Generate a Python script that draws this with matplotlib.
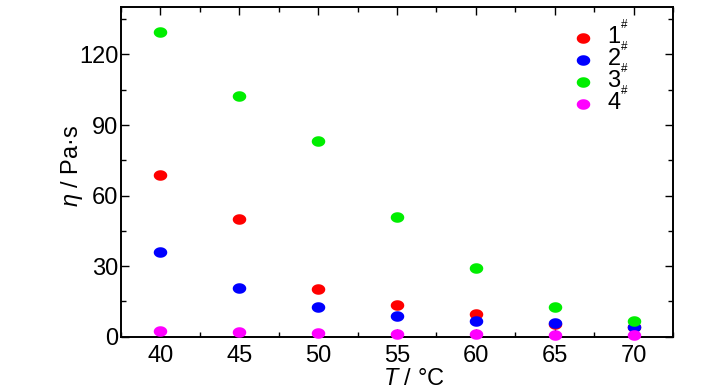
import numpy as np
import matplotlib
matplotlib.use("Agg")
import matplotlib.pyplot as plt
from matplotlib.ticker import MultipleLocator

# viscosity vs temperature for four samples
temps = [40, 45, 50, 55, 60, 65, 70]
eta_1 = [68.8, 49.9, 20.3, 13.5, 9.8, 5.5, 4.0]
eta_2 = [35.8, 20.6, 12.7, 9.0, 6.8, 5.7, 4.3]
eta_3 = [129.6, 102.2, 83.0, 51.0, 29.2, 12.7, 6.7]
eta_4 = [2.4, 1.9, 1.4, 1.3, 1.0, 0.9, 0.8]
labels = [r"1$^{{}^{\#}}$", r"2$^{{}^{\#}}$", r"3$^{{}^{\#}}$", r"4$^{{}^{\#}}$"]
colors = ["#ff0000", "#0000ff", "#00ee00", "#ff00ff"]

plt.rcParams["font.family"] = ["Liberation Sans Narrow", "Liberation Sans", "DejaVu Sans"]
plt.rcParams["mathtext.fontset"] = "custom"
plt.rcParams["mathtext.rm"] = "Liberation Sans"
plt.rcParams["mathtext.it"] = "Liberation Sans:italic"

# wide ellipse marker
t = np.linspace(0, 2 * np.pi, 40)
ellipse = np.column_stack([np.cos(t), 0.78 * np.sin(t)])

fig = plt.figure(figsize=(7.28, 3.9), dpi=100)
ax = fig.add_axes([0.1662, 0.1367, 0.9245 - 0.1662, 0.981 - 0.1367])

for y, lab, c in zip([eta_1, eta_2, eta_3, eta_4], labels, colors):
    ax.scatter(temps, y, marker=ellipse, s=95, color=c, label=lab, linewidths=0,
               zorder=3, clip_on=False)

ax.set_xlim(37.5, 72.5)
ax.set_ylim(0, 140)
ax.xaxis.set_major_locator(MultipleLocator(5))
ax.xaxis.set_minor_locator(MultipleLocator(2.5))
ax.yaxis.set_major_locator(MultipleLocator(30))
ax.yaxis.set_minor_locator(MultipleLocator(15))
ax.tick_params(which="both", direction="in", top=True, right=True, labelsize=17, width=1.0)
ax.tick_params(axis="x", pad=6)
ax.tick_params(axis="y", pad=2)
ax.tick_params(which="major", length=6)
ax.tick_params(which="minor", length=3.5)
for s in ax.spines.values():
    s.set_linewidth(1.4)

ax.set_xlabel(r"$\it{T}$ / °C", fontsize=17)
ax.set_ylabel(r"$\it{\eta}$ / Pa·s", fontsize=17)
ax.xaxis.set_label_coords(0.53, -0.095)
ax.yaxis.set_label_coords(-0.066, 0.52)

ax.legend(loc="upper right", bbox_to_anchor=(0.92, 0.962), frameon=False, fontsize=17,
          handlelength=1.0, handletextpad=0.5, labelspacing=-0.3,
          borderaxespad=0, borderpad=0, scatterpoints=1)

fig.savefig("out.png", dpi=100)
